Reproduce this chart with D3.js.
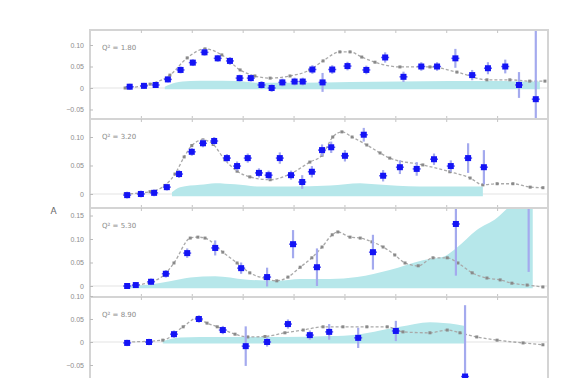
<!DOCTYPE html>
<html>
<head>
<meta charset="utf-8">
<script src="https://cdn.jsdelivr.net/npm/d3@7"></script>
<style>
  html, body { margin: 0; padding: 0; background: #fff; }
  svg { display: block; font-family: "DejaVu Sans", sans-serif; }
</style>
</head>
<body>
<svg id="chart" width="581" height="378"></svg>
<script>
// ---- data: four Q² bins, asymmetry vs x ----
const panelLabels = ["Q² = 1.80", "Q² = 3.20", "Q² = 5.30", "Q² = 8.90"];

const p1X = [0.078,0.106,0.129,0.153,0.178,0.202,0.225,0.251,0.275,0.294,0.316,0.337,0.357,0.378,0.402,0.418,0.437,0.457,0.476,0.506,0.543,0.580,0.616,0.651,0.682,0.718,0.751,0.782,0.816,0.843,0.876];
const p1Y = [0.003,0.005,0.007,0.020,0.042,0.059,0.083,0.069,0.063,0.023,0.023,0.007,0.000,0.013,0.015,0.015,0.043,0.013,0.043,0.051,0.042,0.071,0.026,0.050,0.050,0.069,0.030,0.046,0.050,0.007,-0.026];
const p1E = [0.007,0.007,0.007,0.007,0.008,0.008,0.008,0.008,0.009,0.008,0.008,0.009,0.009,0.009,0.009,0.009,0.010,0.022,0.010,0.010,0.010,0.012,0.012,0.010,0.010,0.022,0.012,0.014,0.016,0.030,0.200];

const p2X = [0.073,0.100,0.126,0.151,0.175,0.200,0.222,0.244,0.269,0.289,0.310,0.332,0.351,0.373,0.395,0.417,0.436,0.456,0.474,0.501,0.538,0.576,0.609,0.642,0.676,0.709,0.743,0.774];
const p2Y = [-0.002,0.000,0.002,0.012,0.035,0.074,0.089,0.093,0.063,0.049,0.063,0.037,0.033,0.063,0.033,0.021,0.039,0.077,0.082,0.067,0.104,0.032,0.047,0.044,0.061,0.049,0.063,0.047];
const p2E = [0.006,0.006,0.006,0.006,0.007,0.007,0.007,0.007,0.007,0.008,0.008,0.008,0.008,0.010,0.008,0.012,0.010,0.010,0.010,0.010,0.012,0.010,0.012,0.012,0.010,0.010,0.026,0.030];

const p3X = [0.073,0.090,0.120,0.149,0.191,0.246,0.297,0.348,0.399,0.446,0.556,0.719,0.862];
const p3Y = [0.000,0.002,0.009,0.026,0.070,0.081,0.038,0.019,0.089,0.040,0.072,0.132,0.300];
const p3E = [0.006,0.006,0.007,0.008,0.010,0.016,0.012,0.020,0.030,0.040,0.037,0.110,0.270];

const p4X = [0.073,0.116,0.165,0.214,0.261,0.306,0.348,0.389,0.432,0.470,0.527,0.601,0.737];
const p4Y = [-0.002,0.000,0.017,0.050,0.026,-0.009,0.000,0.039,0.015,0.022,0.009,0.024,-0.075];
const p4E = [0.007,0.007,0.008,0.008,0.009,0.043,0.010,0.010,0.010,0.017,0.022,0.022,0.155];

// model predictions
const m1X = [0.069,0.118,0.157,0.191,0.226,0.259,0.295,0.324,0.354,0.393,0.432,0.458,0.491,0.511,0.534,0.560,0.609,0.668,0.721,0.780,0.825,0.864,0.894];
const m1Y = [0.000,0.009,0.030,0.070,0.091,0.077,0.042,0.028,0.023,0.028,0.042,0.063,0.084,0.084,0.072,0.060,0.049,0.049,0.037,0.019,0.019,0.016,0.016];
const m2X = [0.069,0.118,0.147,0.167,0.185,0.200,0.222,0.242,0.265,0.289,0.314,0.354,0.393,0.432,0.456,0.477,0.495,0.515,0.544,0.570,0.589,0.654,0.707,0.747,0.772,0.800,0.831,0.865,0.890];
const m2Y = [0.000,0.004,0.015,0.035,0.065,0.085,0.095,0.087,0.060,0.040,0.030,0.025,0.035,0.056,0.068,0.100,0.109,0.100,0.086,0.072,0.063,0.051,0.039,0.028,0.016,0.018,0.018,0.012,0.011];
const m3X = [0.073,0.118,0.147,0.165,0.197,0.212,0.226,0.261,0.289,0.314,0.344,0.367,0.389,0.413,0.436,0.456,0.476,0.487,0.511,0.531,0.554,0.576,0.599,0.619,0.645,0.674,0.702,0.723,0.751,0.780,0.806,0.829,0.859,0.890];
const m3Y = [0.000,0.008,0.025,0.049,0.102,0.104,0.102,0.072,0.049,0.028,0.016,0.011,0.019,0.040,0.060,0.083,0.109,0.115,0.104,0.102,0.094,0.083,0.066,0.049,0.043,0.060,0.060,0.049,0.028,0.017,0.013,0.006,0.002,-0.002];
const m4X = [0.073,0.143,0.183,0.210,0.230,0.250,0.285,0.310,0.344,0.383,0.419,0.458,0.497,0.544,0.584,0.615,0.668,0.702,0.727,0.760,0.800,0.851,0.890];
const m4Y = [0.000,0.004,0.033,0.052,0.041,0.033,0.017,0.011,0.012,0.020,0.026,0.033,0.033,0.033,0.033,0.022,0.020,0.026,0.020,0.011,0.004,-0.002,-0.006];

// systematic uncertainty bands (upper edge; lower edge is bandLow)
const b1X = [0.147,0.167,0.197,0.236,0.285,0.334,0.413,0.511,0.609,0.707,0.806,0.884];
const b1Y = [0.003,0.012,0.016,0.017,0.016,0.012,0.012,0.014,0.015,0.016,0.016,0.015];
const b2X = [0.161,0.177,0.216,0.246,0.285,0.334,0.393,0.472,0.531,0.560,0.648,0.772];
const b2Y = [0.003,0.012,0.016,0.019,0.017,0.013,0.013,0.015,0.019,0.017,0.013,0.013];
const b3X = [0.073,0.118,0.157,0.197,0.246,0.305,0.367,0.413,0.472,0.525,0.589,0.654,0.694,0.719,0.760,0.800,0.825,0.870];
const b3Y = [0.000,0.003,0.010,0.018,0.021,0.014,0.011,0.015,0.015,0.019,0.034,0.055,0.062,0.080,0.119,0.145,0.170,0.200];
const b4X = [0.143,0.177,0.255,0.379,0.472,0.525,0.570,0.609,0.668,0.721,0.737];
const b4Y = [0.002,0.010,0.011,0.011,0.013,0.016,0.025,0.033,0.043,0.038,0.035];
const bandLow = [-0.003, -0.004, -0.005, -0.003];

// y axis set-up per panel
const yDomains = [[-0.0721, 0.1349], [-0.0246, 0.1316], [-0.0234, 0.1660], [-0.0978, 0.0978]];
const yTicks = [[-0.05, 0, 0.05, 0.1], [0, 0.05, 0.1], [0, 0.05, 0.1, 0.15], [-0.05, 0, 0.05, 0.1]];
const xTicks = [0.1, 0.2, 0.3, 0.4, 0.5, 0.6, 0.7, 0.8];

const panels = [
  {X: p1X, Y: p1Y, E: p1E, mX: m1X, mY: m1Y, bX: b1X, bY: b1Y},
  {X: p2X, Y: p2Y, E: p2E, mX: m2X, mY: m2Y, bX: b2X, bY: b2Y},
  {X: p3X, Y: p3Y, E: p3E, mX: m3X, mY: m3Y, bX: b3X, bY: b3Y},
  {X: p4X, Y: p4Y, E: p4E, mX: m4X, mY: m4Y, bX: b4X, bY: b4Y}
];

// ---- layout ----
const left = 90, right = 548;
const tops = [30, 119, 208, 297];
const panelH = [89, 89, 89, 90];

const svg = d3.select("#chart");
const x = d3.scaleLinear().domain([0, 0.9]).range([left, right]);
const fmt = v => v === 0 ? "0" : d3.format(".2f")(v);

panels.forEach((p, i) => {
  const top = tops[i], bottom = top + panelH[i];
  const y = d3.scaleLinear().domain(yDomains[i]).range([bottom, top]);
  const g = svg.append("g");

  const clipId = "clip" + i;
  svg.append("clipPath").attr("id", clipId)
    .append("rect").attr("x", left).attr("y", top).attr("width", right - left).attr("height", bottom - top);
  const inner = g.append("g").attr("clip-path", `url(#${clipId})`);

  // zero line
  inner.append("line")
    .attr("x1", left).attr("x2", right).attr("y1", y(0)).attr("y2", y(0))
    .attr("stroke", "#e4e4e4").attr("stroke-width", 1.2);

  // systematic band
  const band = d3.area()
    .x((d, k) => x(p.bX[k]))
    .y0(() => y(bandLow[i]))
    .y1((d, k) => y(p.bY[k]))
    .curve(d3.curveMonotoneX);
  inner.append("path").datum(p.bY).attr("d", band).attr("fill", "#b6e7ea");

  // model curve
  const line = d3.line().x((d, k) => x(p.mX[k])).y((d, k) => y(p.mY[k])).curve(d3.curveMonotoneX);
  inner.append("path").datum(p.mY).attr("d", line)
    .attr("fill", "none").attr("stroke", "#a9a9a9").attr("stroke-width", 1.3)
    .attr("stroke-dasharray", "3,2");
  inner.selectAll(".mdot").data(p.mY).join("rect")
    .attr("x", (d, k) => x(p.mX[k]) - 1.5).attr("y", d => y(d) - 1.5)
    .attr("width", 3).attr("height", 3).attr("fill", "#8a8a8a");

  // error bars
  inner.selectAll(".err").data(p.Y).join("line")
    .attr("x1", (d, k) => x(p.X[k])).attr("x2", (d, k) => x(p.X[k]))
    .attr("y1", (d, k) => y(d + p.E[k])).attr("y2", (d, k) => y(d - p.E[k]))
    .attr("stroke", "#a4aaee").attr("stroke-width", 2.2);
  inner.selectAll(".whisk").data(p.Y).join("line")
    .attr("x1", (d, k) => x(p.X[k]) - 4).attr("x2", (d, k) => x(p.X[k]) + 4)
    .attr("y1", d => y(d)).attr("y2", d => y(d))
    .attr("stroke", "#5a5af5").attr("stroke-width", 1.5);

  // data points
  inner.selectAll(".pt").data(p.Y).join("rect")
    .attr("x", (d, k) => x(p.X[k]) - 3).attr("y", d => y(d) - 3)
    .attr("width", 6).attr("height", 6).attr("fill", "#1414f5");

  // frame
  g.append("rect").attr("x", left).attr("y", top).attr("width", right - left).attr("height", bottom - top)
    .attr("fill", "none").attr("stroke", "#d4d4d4").attr("stroke-width", 2);

  // y axis
  const ya = g.append("g").attr("transform", `translate(${left},0)`)
    .call(d3.axisLeft(y).tickValues(yTicks[i]).tickFormat(fmt).tickSize(-3).tickPadding(6));
  ya.select(".domain").remove();
  ya.selectAll(".tick line").attr("stroke", "#bbb");
  ya.selectAll(".tick text").attr("fill", "#8c8c8c").style("font-size", "7px");

  // x ticks on top and bottom edges
  const xt = g.append("g").attr("transform", `translate(0,${top})`)
    .call(d3.axisTop(x).tickValues(xTicks).tickFormat("").tickSize(-3));
  xt.select(".domain").remove();
  xt.selectAll(".tick line").attr("stroke", "#c4c4c4");
  const xb = g.append("g").attr("transform", `translate(0,${bottom})`)
    .call(d3.axisBottom(x).tickValues(xTicks).tickFormat("").tickSize(-3));
  xb.select(".domain").remove();
  xb.selectAll(".tick line").attr("stroke", "#c4c4c4");

  // bin label
  g.append("text").attr("x", 102).attr("y", top + 20)
    .attr("fill", "#8a8a8a").style("font-size", "7px").text(panelLabels[i]);
});

// y axis title
svg.append("text").attr("x", 53.5).attr("y", 214).attr("text-anchor", "middle")
  .attr("fill", "#666").style("font-size", "9px").text("A");
</script>
</body>
</html>
